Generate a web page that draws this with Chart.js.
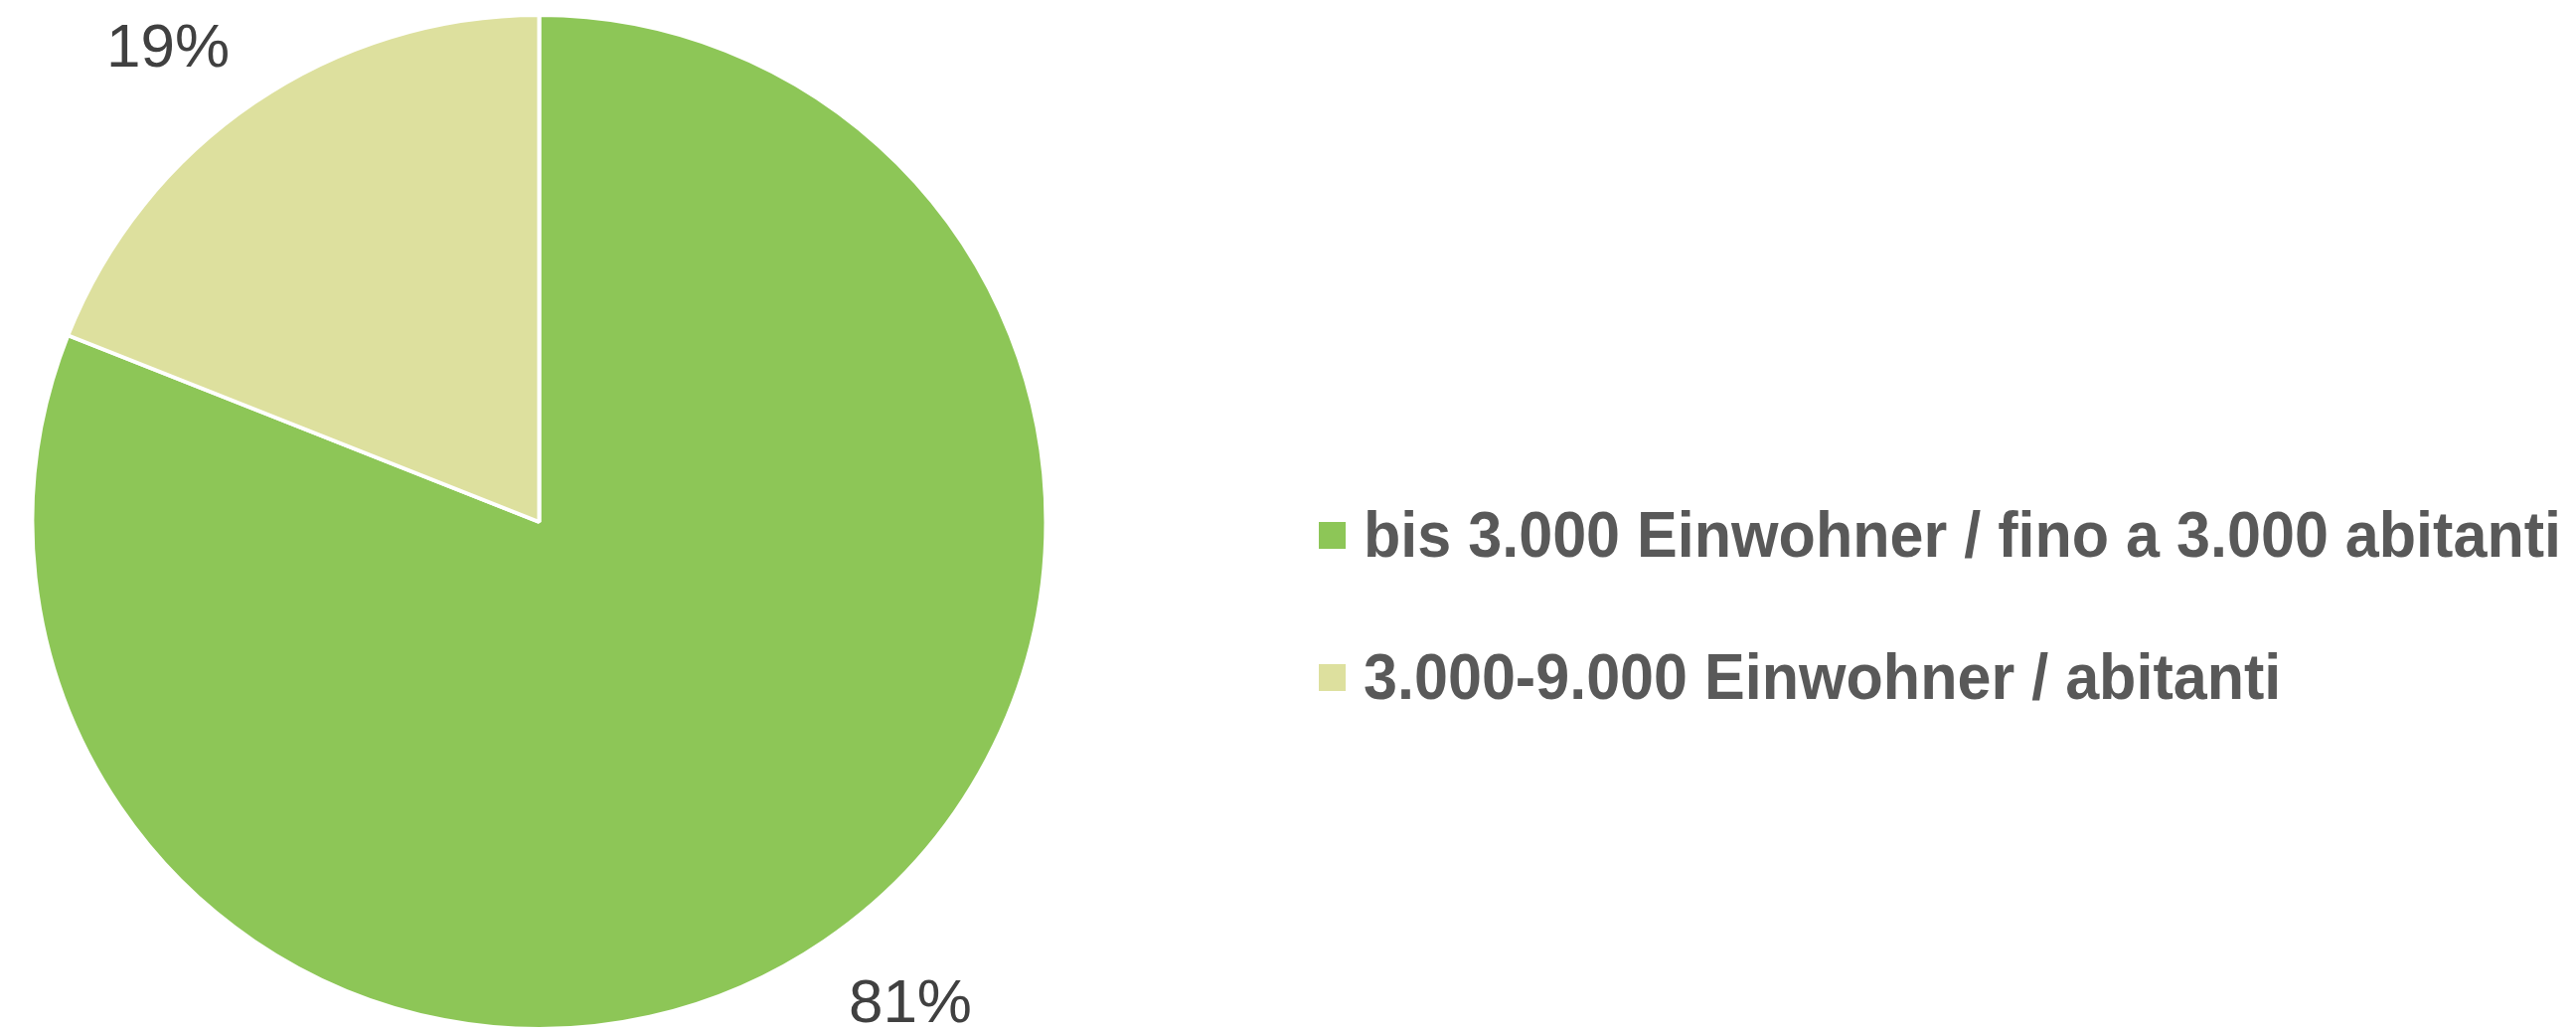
<!DOCTYPE html>
<html>
<head>
<meta charset="utf-8">
<script src="https://cdn.jsdelivr.net/npm/chart.js@4"></script>
<style>
  html, body { margin: 0; padding: 0; background: #ffffff; }
  #wrap { width: 2592px; height: 1038px; position: relative; }
</style>
</head>
<body>
<div id="wrap"><canvas id="pie_canvas"></canvas></div>
<script>
// chart data
const categories = [
  'bis 3.000 Einwohner / fino a 3.000 abitanti',
  '3.000-9.000 Einwohner / abitanti'
];
const shares = [81, 19];
const value_labels = ['81%', '19%'];
const slice_colors = ['#8DC657', '#DDE09E'];

/**
 * Draws the percentage labels just outside each slice, with the text box
 * corner nearest the pie sitting a fixed gap off the rim.
 */
const outside_labels = {
  id: 'outside_labels',
  afterDatasetsDraw(chart) {
    const ctx = chart.ctx;
    const meta = chart.getDatasetMeta(0);
    ctx.save();
    ctx.font = '62px "Liberation Sans", Arial, sans-serif';
    ctx.fillStyle = '#404040';
    ctx.textBaseline = 'alphabetic';
    ctx.textAlign = 'left';
    const cap_height = 45;
    meta.data.forEach((arc, i) => {
      const mid = (arc.startAngle + arc.endAngle) / 2;
      const dx = Math.cos(mid), dy = Math.sin(mid);
      const dist = arc.outerRadius + 44;
      const px = arc.x + dx * dist;
      const py = arc.y + dy * dist;
      const text = value_labels[i];
      const w = ctx.measureText(text).width;
      const left = dx < 0 ? px - w : px;
      const top = dy < 0 ? py - cap_height : py;
      ctx.fillText(text, left, top + cap_height);
    });
    ctx.restore();
  }
};

/**
 * Legend on the right: colour square plus bold, slightly condensed text.
 */
const side_legend = {
  id: 'side_legend',
  afterDraw(chart) {
    const ctx = chart.ctx;
    const box_x = 1327, box_size = 27;
    const text_x = 1372;
    const baselines = [560, 703];
    const box_tops = [525, 668];
    const first_row_width = 1205;
    ctx.save();
    ctx.font = 'bold 64px "Liberation Sans", Arial, sans-serif';
    ctx.textBaseline = 'alphabetic';
    ctx.textAlign = 'left';
    const squeeze = first_row_width / ctx.measureText(categories[0]).width;
    categories.forEach((label, i) => {
      ctx.fillStyle = slice_colors[i];
      ctx.fillRect(box_x, box_tops[i], box_size, box_size);
      ctx.save();
      ctx.translate(text_x, baselines[i]);
      ctx.scale(squeeze, 1);
      ctx.fillStyle = '#595959';
      ctx.fillText(label, 0, 0);
      ctx.restore();
    });
    ctx.restore();
  }
};

function init_chart() {
  return new Chart(document.getElementById('pie_canvas'), {
    type: 'pie',
    data: {
      labels: categories,
      datasets: [{
        data: shares,
        backgroundColor: slice_colors,
        borderColor: '#ffffff',
        borderWidth: 4,
        hoverOffset: 0,
        radius: 510
      }]
    },
    options: {
      responsive: true,
      maintainAspectRatio: false,
      animation: false,
      events: [],
      layout: {
        padding: { top: 15, bottom: 3, left: 32, right: 1539 }
      },
      plugins: {
        legend: { display: false },
        tooltip: { enabled: false },
        title: { display: false }
      }
    },
    plugins: [outside_labels, side_legend]
  });
}

init_chart();
</script>
</body>
</html>
